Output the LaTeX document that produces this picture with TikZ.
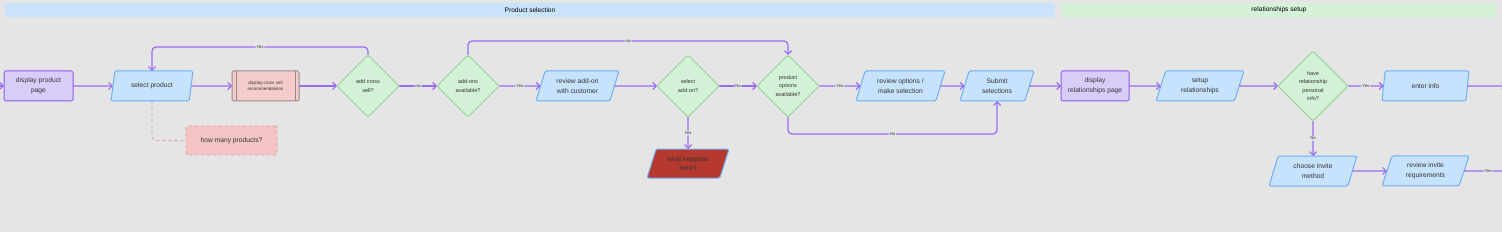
\documentclass[tikz,border=0pt]{standalone}
\usepackage{fontspec}
\setmainfont{Liberation Sans}
\usepackage{xcolor}
\usepackage{tikz}
\usetikzlibrary{arrows.meta,positioning,shapes.geometric}
\definecolor{bgc}{HTML}{E5E5E5}
\definecolor{hdrblue}{HTML}{C8E3FB}
\definecolor{hdrgreen}{HTML}{D3F2D6}
\definecolor{flowc}{HTML}{9B6CF2}
\definecolor{pagefill}{HTML}{D9CCF8}
\definecolor{pageline}{HTML}{8B5CF6}
\definecolor{iofill}{HTML}{C6E2FD}
\definecolor{ioline}{HTML}{6CB0F7}
\definecolor{decfill}{HTML}{D3F1D6}
\definecolor{decline}{HTML}{8FD48F}
\definecolor{subfill}{HTML}{F5CCCC}
\definecolor{subline}{HTML}{9A8A8A}
\definecolor{notefill}{HTML}{F4C4C4}
\definecolor{noteline}{HTML}{DE9C9C}
\definecolor{alertfill}{HTML}{B5392F}
\definecolor{txt}{HTML}{333333}
\newcommand{\mf}{\fontsize{6.7}{9.7}\selectfont}
\newcommand{\mfs}{\fontsize{5.5}{8.6}\selectfont}
\newcommand{\mfx}{\fontsize{4.5}{6.3}\selectfont}
\newcommand{\mfl}{\fontsize{4.2}{5}\selectfont}
\begin{document}
\begin{tikzpicture}[x=1pt, y=1pt, every node/.style={inner sep=0pt, outer sep=0pt, font=\mf, text=txt},
  hdr/.style={minimum height=14pt, font=\fontsize{6.6}{8}\selectfont, text=black},
  page/.style={draw=pageline, fill=pagefill, line width=1pt, rounded corners=1.5pt, minimum height=30pt, align=center},
  io/.style={trapezium, trapezium left angle=58, trapezium right angle=122, trapezium stretches body=true,
    draw=ioline, fill=iofill, line width=1pt, rounded corners=1.5pt, minimum height=30pt, align=center},
  dec/.style={diamond, aspect=1, draw=decline, fill=decfill, line width=1pt, rounded corners=1.5pt,
    minimum width=62pt, minimum height=62pt, align=center, font=\mfs},
  subproc/.style={draw=subline, fill=subfill, line width=1pt, rounded corners=1.5pt, minimum height=30pt,
    align=center, font=\mfx, path picture={
      \draw[subline, line width=1pt] ([xshift=4pt]path picture bounding box.north west) -- ([xshift=4pt]path picture bounding box.south west);
      \draw[subline, line width=1pt] ([xshift=-4pt]path picture bounding box.north east) -- ([xshift=-4pt]path picture bounding box.south east);}},
  note/.style={draw=noteline, fill=notefill, dashed, line width=0.8pt, rounded corners=1.5pt, minimum height=29pt, align=center},
  flow/.style={draw=flowc, line width=1.2pt, rounded corners=4pt, -{Straight Barb[length=3.5pt,width=7pt]}},
  lbl/.style={fill=bgc, font=\mfl, inner sep=1pt, text=txt}]
\useasboundingbox[fill=bgc] (0,0) rectangle (1502,-232);
% ---- lane headers
\node[hdr, fill=hdrblue, minimum width=1050pt] (lanesel) at (530,-10) {Product selection};
\node[hdr, fill=hdrgreen, minimum width=434pt] (lanerel) at (1279,-10) {relationships setup};
% ---- product selection
\coordinate (inL) at (-12,-86);
\node[page, minimum width=69pt] (dpp) at (38.5,-86) {display product\\page};
\node[io, minimum width=82pt] (selprod) at (152,-86) {select product};
\node[subproc, minimum width=67pt] (xsell) at (265.5,-86) {display cross sell\\recommendations};
\node[dec] (addx) at (368,-86) {add cross\\sell?};
\node[note, minimum width=91pt] (howmany) at (231.5,-140.5) {how many products?};
\node[dec] (addons) at (468,-86) {add-ons\\available?};
\node[io, minimum width=83pt] (revaddon) at (577.5,-86) {review add-on\\with customer};
\node[dec] (seladdon) at (688,-86) {select\\add-on?};
\node[io, minimum width=82pt, minimum height=29pt, fill=alertfill, below=32pt of seladdon] (what) {what happens\\here?};
\node[dec] (prodopt) at (788,-86) {product\\options\\available?};
\node[io, minimum width=89pt] (revopt) at (900.5,-86) {review options /\\make selection};
\node[io, minimum width=74pt] (submit) at (997,-86) {Submit\\selections};
% ---- relationships setup
\node[page, minimum width=68pt] (disprel) at (1095,-86) {display\\relationships page};
\node[io, minimum width=88pt] (setuprel) at (1200,-86) {setup\\relationships};
\node[dec, minimum width=70pt, minimum height=70pt] (haverel) at (1313,-86) {have\\relationship\\personal\\info?};
\node[io, minimum width=87pt] (enterinfo) at (1425.5,-86) {enter info};
\node[io, minimum width=88pt, below=35pt of haverel] (chooseinv) {choose invite\\method};
\node[io, minimum width=87pt] (revinv) at (1425.5,-171) {review invite\\requirements};
\coordinate (outA) at (1506,-86);
\coordinate (outB) at (1512,-171);
% ---- connectors
\draw[flow] (inL) -- (dpp);
\draw[flow] (dpp) -- (selprod);
\draw[flow] (selprod) -- (xsell);
\draw[flow] (xsell) -- (addx);
\draw[flow] (addx.north) |- node[lbl, pos=0.75] {Yes} ([yshift=24pt]selprod.north) -- (selprod.north);
\draw[noteline, line width=0.8pt, dashed, rounded corners=4pt] (selprod.south) |- (howmany.west);
\draw[flow] (addx) -- node[lbl] {no} (addons);
\draw[flow] (addons) -- node[lbl] {Yes} (revaddon);
\draw[flow] (revaddon) -- (seladdon);
\draw[flow] (seladdon) -- node[lbl] {Yes} (what);
\draw[flow] (seladdon) -- node[lbl] {No} (prodopt);
\draw[flow] (addons.north) |- node[lbl, pos=0.75] {no} ([yshift=14pt]prodopt.north) -- (prodopt.north);
\draw[flow] (prodopt) -- node[lbl] {Yes} (revopt);
\draw[flow] (revopt) -- (submit);
\draw[flow] (prodopt.south) |- node[lbl, pos=0.75] {No} ([yshift=-33pt]submit.south) -- (submit.south);
\draw[flow] (submit) -- (disprel);
\draw[flow] (disprel) -- (setuprel);
\draw[flow] (setuprel) -- (haverel);
\draw[flow] (haverel) -- node[lbl] {Yes} (enterinfo);
\draw[flow] (enterinfo) -- (outA);
\draw[flow] (haverel) -- node[lbl] {No} (chooseinv);
\draw[flow] (chooseinv) -- (revinv);
\draw[flow] (revinv) -- node[lbl, pos=0.5] {Yes} (outB);
\end{tikzpicture}
\end{document}
